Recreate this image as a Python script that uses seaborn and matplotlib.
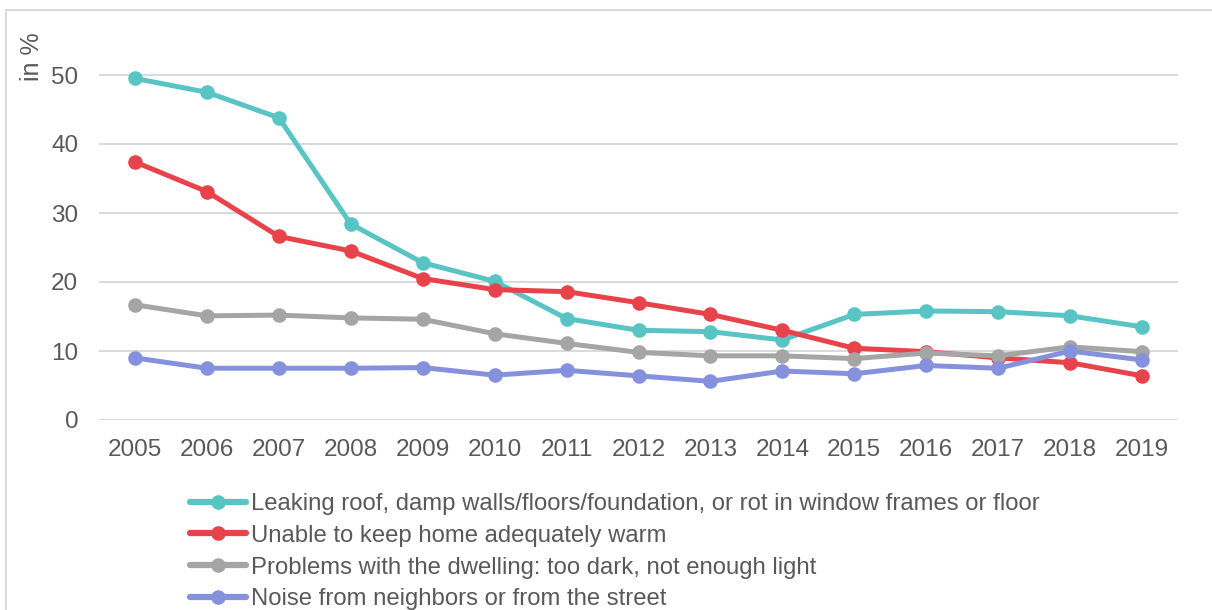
import matplotlib
matplotlib.use("Agg")
import matplotlib.pyplot as plt
import seaborn as sns
import pandas as pd
from matplotlib.patches import Rectangle

years = ["2005", "2006", "2007", "2008", "2009", "2010", "2011", "2012",
         "2013", "2014", "2015", "2016", "2017", "2018", "2019"]

leaking_roof = [49.5, 47.5, 43.8, 28.4, 22.8, 20.1, 14.7, 13.0, 12.8, 11.6,
                15.3, 15.8, 15.7, 15.1, 13.5]
unable_warm = [37.4, 33.1, 26.6, 24.5, 20.5, 18.9, 18.6, 17.0, 15.3, 13.0,
               10.4, 9.9, 9.0, 8.3, 6.4]
too_dark = [16.7, 15.1, 15.2, 14.8, 14.6, 12.5, 11.1, 9.8, 9.3, 9.3,
            8.9, 9.7, 9.3, 10.6, 9.9]
noise = [9.0, 7.5, 7.5, 7.5, 7.6, 6.5, 7.2, 6.4, 5.6, 7.1,
         6.7, 7.9, 7.5, 10.0, 8.7]

series_names = [
    "Leaking roof, damp walls/floors/foundation, or rot in window frames or floor",
    "Unable to keep home adequately warm",
    "Problems with the dwelling: too dark, not enough light",
    "Noise from neighbors or from the street",
]
series_colors = ["#58C4C3", "#E8424B", "#A5A5A5", "#8591DD"]

frames = []
for name, vals in zip(series_names, [leaking_roof, unable_warm, too_dark, noise]):
    frames.append(pd.DataFrame({"year": years, "value": vals, "series": name}))
df = pd.concat(frames, ignore_index=True)

sns.set_theme(style="white")
plt.rcParams["font.family"] = ["Liberation Sans", "DejaVu Sans"]
text_color = "#595959"

W, H = 1212, 610
fig = plt.figure(figsize=(W / 100, H / 100), dpi=100)

# axes area in pixel terms
left_px, right_px, bottom_px, top_px = 99, 1178, 420, 40.5
ax = fig.add_axes([left_px / W, 1 - bottom_px / H,
                   (right_px - left_px) / W, (bottom_px - top_px) / H])

x_pos = {y: i for i, y in enumerate(years)}
df["x"] = df["year"].map(x_pos)

sns.lineplot(data=df, x="x", y="value", hue="series", hue_order=series_names,
             palette=series_colors, marker="o", markersize=10.5, linewidth=3.6,
             markeredgewidth=0, sort=False, ax=ax)

ax.set_xlim(-0.5, len(years) - 0.5)
ax.set_ylim(0, 55)
ax.set_xticks(range(len(years)))
ax.set_xticklabels(years)
ax.set_yticks([0, 10, 20, 30, 40, 50])
ax.grid(axis="y", color="#D9D9D9", linewidth=1.4)
ax.grid(axis="x", visible=False)
ax.set_axisbelow(True)
for s in ax.spines.values():
    s.set_visible(False)
ax.tick_params(axis="both", length=0, labelsize=17.5, colors=text_color)
ax.tick_params(axis="x", pad=14)
ax.tick_params(axis="y", pad=15)
ax.set_xlabel("")
ax.set_ylabel("")

fig.text(32 / W, 1 - 57 / H, "in %", rotation=90, fontsize=18,
         color=text_color, ha="center", va="center")

handles, labels = ax.get_legend_handles_labels()
ax.legend_.remove()
for h in handles:
    h.set_linewidth(4.5)
fig.legend(handles, labels, loc="upper left",
           bbox_to_anchor=(190 / W, 1 - 493 / H), frameon=False,
           fontsize=17.2, labelcolor=text_color, handlelength=2.35,
           handletextpad=0.2, labelspacing=0.41, borderaxespad=0,
           borderpad=0)

# outer frame, open to the right and bottom
fig.patches.append(Rectangle((6 / W, -0.1), 1.2, 1 + 0.1 - 9.5 / H,
                             transform=fig.transFigure, fill=False,
                             edgecolor="#D9D9D9", linewidth=1.4))

fig.savefig("out.png", dpi=100, facecolor="white")
